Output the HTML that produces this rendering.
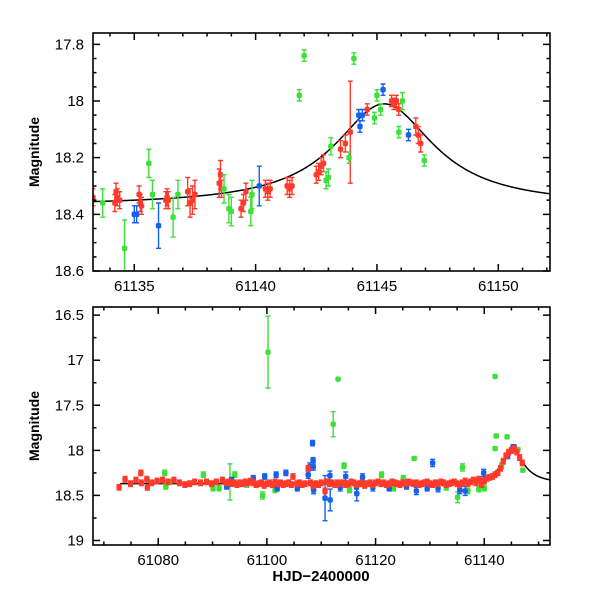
<!DOCTYPE html>
<html><head><meta charset="utf-8"><style>
html,body{margin:0;padding:0;background:#fff;}
svg{display:block;font-family:"Liberation Sans",sans-serif;}
</style></head><body>
<svg id="chart" width="600" height="600" viewBox="0 0 600 600"></svg>
<script>
// ---- TOP PANEL DATA ----
const topRedT=[61133.3,61134.2,61134.25,61134.3,61134.4,61135.2,61135.25,61135.3,61136.3,61136.35,61136.4,61137.2,61137.3,61137.4,61137.5,61138.5,61138.55,61138.6,61139.4,61139.5,61139.6,61140.4,61140.5,61140.6,61141.3,61141.4,61141.5,61142.5,61142.6,61142.7,61142.8,61143.5,61143.7,61143.9,61144.6,61145.6,61145.7,61145.8,61145.9,61146.6,61146.7,61146.8];
const topRedM=[18.34,18.36,18.32,18.34,18.35,18.33,18.36,18.37,18.35,18.34,18.35,18.32,18.36,18.35,18.33,18.29,18.26,18.31,18.38,18.36,18.32,18.31,18.32,18.31,18.3,18.31,18.3,18.26,18.25,18.23,18.22,18.17,18.15,18.11,18.03,18.0,18.01,18.0,18.03,18.09,18.12,18.15];
const topRedE=[0.03,0.03,0.03,0.03,0.03,0.03,0.03,0.03,0.03,0.03,0.03,0.05,0.05,0.05,0.05,0.05,0.05,0.03,0.03,0.03,0.03,0.03,0.03,0.03,0.03,0.03,0.03,0.03,0.03,0.03,0.03,0.03,0.03,0.18,0.02,0.02,0.02,0.02,0.02,0.03,0.03,0.03];
const topGreenT=[61133.7,61134.6,61135.6,61135.75,61136.6,61136.8,61138.7,61138.9,61139.0,61139.8,61139.85,61141.8,61142.0,61142.9,61143.0,61143.1,61143.85,61144.05,61144.9,61145.0,61145.15,61146.05,61145.9,61146.95];
const topGreenM=[18.36,18.52,18.22,18.33,18.41,18.33,18.31,18.38,18.39,18.39,18.33,17.98,17.84,18.28,18.27,18.16,18.2,17.85,18.06,17.98,18.03,18.0,18.11,18.21];
const topGreenE=[0.05,0.1,0.05,0.05,0.07,0.05,0.05,0.05,0.05,0.05,0.05,0.02,0.02,0.03,0.03,0.03,0.02,0.02,0.02,0.02,0.02,0.03,0.02,0.02];
const topBlueT=[61135.0,61135.1,61136.0,61140.15,61144.25,61144.3,61144.4,61145.25,61146.3];
const topBlueM=[18.4,18.4,18.44,18.3,18.05,18.09,18.05,17.96,18.12];
const topBlueE=[0.03,0.03,0.08,0.07,0.02,0.02,0.02,0.02,0.02];
// ---- BOTTOM PANEL DATA ----
const botRedT=[61072.8,61073.9,61074.9,61075.9,61076.8,61076.9,61077.9,61078.0,61078.8,61079.8,61080.8,61081.8,61082.9,61083.9,61084.9,61085.8,61086.7,61087.8,61088.9,61089.8,61090.7,61091.8,61092.5,61093.0,61093.5,61094.0,61094.5,61095.0,61095.5,61096.0,61096.5,61097.0,61097.5,61098.0,61098.5,61099.0,61099.5,61100.0,61100.5,61101.0,61101.5,61102.0,61102.5,61103.0,61103.5,61104.0,61104.5,61104.8,61105.5,61106.0,61106.5,61107.0,61107.6,61108.0,61108.5,61109.0,61109.5,61110.0,61110.7,61111.0,61111.5,61112.0,61112.5,61113.0,61113.5,61114.0,61114.5,61115.0,61115.5,61116.0,61116.5,61117.0,61117.5,61118.0,61118.5,61119.0,61119.5,61120.0,61120.5,61121.0,61121.5,61122.0,61122.5,61123.0,61123.5,61124.0,61124.5,61125.0,61125.5,61126.0,61126.5,61127.0,61127.5,61128.0,61128.5,61129.0,61129.5,61130.0,61130.5,61131.0,61131.5,61132.0,61132.5,61133.0,61133.5,61134.0,61134.5,61135.0,61135.5,61136.0,61136.5,61137.0,61137.5,61138.0,61138.5,61139.0,61139.5,61140.0,61140.5,61141.0,61141.5,61142.0,61142.5,61143.0,61143.5,61144.0,61144.5,61145.0,61145.5,61146.0,61146.5,61147.0];
const botRedM=[18.41,18.32,18.37,18.33,18.25,18.36,18.32,18.41,18.36,18.34,18.33,18.35,18.33,18.36,18.38,18.37,18.35,18.36,18.35,18.37,18.35,18.33,18.36,18.35,18.37,18.36,18.38,18.36,18.37,18.35,18.36,18.34,18.36,18.38,18.37,18.36,18.39,18.37,18.36,18.38,18.35,18.37,18.36,18.38,18.37,18.36,18.38,18.29,18.37,18.36,18.38,18.37,18.2,18.36,18.39,18.37,18.38,18.36,18.45,18.35,18.37,18.36,18.38,18.36,18.37,18.36,18.38,18.37,18.35,18.36,18.38,18.37,18.36,18.39,18.37,18.36,18.38,18.36,18.35,18.37,18.36,18.38,18.37,18.35,18.36,18.37,18.38,18.36,18.37,18.35,18.36,18.37,18.36,18.38,18.37,18.36,18.35,18.37,18.38,18.36,18.37,18.35,18.36,18.38,18.37,18.36,18.35,18.37,18.38,18.36,18.34,18.37,18.35,18.33,18.36,18.32,18.38,18.34,18.31,18.3,18.29,18.27,18.25,18.2,18.12,18.06,18.02,18.0,17.98,18.02,18.08,18.14];
const botGreenT=[61081.2,61081.4,61082.1,61088.3,61090.1,61091.2,61093.2,61094.1,61096.3,61099.2,61100.2,61101.5,61112.2,61113.1,61114.2,61115.2,61121.1,61123.3,61125.1,61127.1,61133.0,61135.1,61136.0,61137.0,61139.0,61140.0,61142.0,61142.2,61142.0,61144.2,61143.2,61146.2,61147.1];
const botGreenM=[18.25,18.4,18.35,18.27,18.42,18.42,18.35,18.27,18.38,18.5,16.91,18.44,17.71,17.21,18.17,18.44,18.27,18.42,18.31,18.09,18.41,18.52,18.19,18.45,18.43,18.42,17.18,17.84,17.98,17.85,18.17,17.99,18.22];
const botGreenE=[0.03,0.03,0.03,0.03,0.03,0.03,0.2,0.03,0.03,0.04,0.4,0.03,0.14,0,0.03,0.03,0.03,0.03,0.03,0.02,0.03,0.06,0.04,0.03,0.03,0.03,0,0.02,0.02,0.02,0.03,0.02,0.02];
const botBlueT=[61092.6,61093.5,61097.5,61099.6,61101.7,61101.9,61103.5,61105.6,61107.6,61107.9,61108.4,61108.5,61108.55,61108.6,61110.7,61111.6,61111.65,61113.5,61114.5,61116.5,61116.55,61117.6,61119.5,61122.5,61125.7,61127.5,61129.5,61130.5,61131.5,61135.5,61136.5,61139.9,61144.3,61145.3,61145.5];
const botBlueM=[18.4,18.33,18.31,18.29,18.27,18.42,18.25,18.42,18.27,18.18,17.92,18.11,18.18,18.44,18.53,18.28,18.55,18.41,18.29,18.41,18.48,18.3,18.41,18.42,18.4,18.45,18.42,18.14,18.42,18.44,18.45,18.25,18.07,17.96,17.96];
const botBlueE=[0.03,0.03,0.03,0.03,0.03,0.03,0.03,0.03,0.04,0.04,0.03,0.03,0.04,0.04,0.25,0.05,0.12,0.04,0.05,0.06,0.08,0.04,0.04,0.03,0.03,0.04,0.03,0.04,0.04,0.04,0.05,0.04,0.02,0.02,0.02];
const topXTicks=[61135,61140,61145,61150];
const topYTicks=[17.8,18,18.2,18.4,18.6];
const botXTicks=[61080,61100,61120,61140];
const botYTicks=[16.5,17,17.5,18,18.5,19];
// model parameters (not data)
const modelBase=18.37, modelAmp=0.36, modelT0=61145.3, modelW=2.5;

const NS='http://www.w3.org/2000/svg';
const svg=document.getElementById('chart');
function el(tag,attrs,parent){const e=document.createElementNS(NS,tag);for(const k in attrs)e.setAttribute(k,attrs[k]);(parent||svg).appendChild(e);return e;}
const RED='#ff3a2a',GREEN='#3ee03a',BLUE='#1560ee';

function panel(name,x0,x1,y0,y1,t0,t1,m0,m1,xTicks,xMinor,yTicks,yMinor,series,modelStart){
  const g=el('g',{});
  
  
  const X=t=>x0+(t-t0)/(t1-t0)*(x1-x0);
  const Y=m=>y0+(m-m0)/(m1-m0)*(y1-y0);
  const clip=el('clipPath',{id:name+'-clip'},g);
  el('rect',{x:x0,y:y0,width:x1-x0,height:y1-y0},clip);
  const inner=el('g',{'clip-path':'url(#'+name+'-clip)'},g);
  let d='';
  for(let t=modelStart;t<=t1;t+=0.05){const m=modelBase-modelAmp/(1+Math.pow((t-modelT0)/modelW,2));d+=(d?'L':'M')+X(t).toFixed(2)+','+Y(m).toFixed(2);}
  const c=el('path',{d:d,fill:'none',stroke:'#000','stroke-width':1.5},inner);
  
  
  series.forEach(s=>{
    const sg=el('g',{},inner);
    
    
    for(let i=0;i<s.t.length;i++){
      const x=X(s.t[i]),y=Y(s.m[i]),e=s.e?s.e[i]:0.03;
      if(e>0){
        const ya=Y(s.m[i]-e),yb=Y(s.m[i]+e);
        el('path',{d:`M${x},${ya}V${yb}M${x-2.5},${ya}H${x+2.5}M${x-2.5},${yb}H${x+2.5}`,stroke:s.c,'stroke-width':1.4,fill:'none'},sg);
      }
      const p=el('rect',{x:x-2.7,y:y-2.7,width:5.4,height:5.4,rx:1.8,fill:s.c},sg);
      
      
    }
  });
  const f=el('rect',{x:x0,y:y0,width:x1-x0,height:y1-y0,fill:'none',stroke:'#000','stroke-width':1.6},g);
  
  
  let td='';
  for(let t=Math.ceil(t0/xMinor)*xMinor;t<=t1;t+=xMinor){
    const major=xTicks.some(v=>Math.abs(v-t)<1e-6);const L=major?7:3.5;const x=X(t);
    td+=`M${x},${y1}v${-L}M${x},${y0}v${L}`;
  }
  for(let k=Math.ceil(m0/yMinor-1e-6);k*yMinor<=m1+1e-6;k++){
    const m=k*yMinor;const major=yTicks.some(v=>Math.abs(v-m)<1e-6);const L=major?7:3.5;const y=Y(m);
    td+=`M${x0},${y}h${L}M${x1},${y}h${-L}`;
  }
  el('path',{d:td,stroke:'#000','stroke-width':1.5,fill:'none'},g);
  xTicks.forEach(t=>{const tx=el('text',{x:X(t),y:y1+20,'font-size':15,'text-anchor':'middle'},g);tx.textContent=String(t);
    
    });
  yTicks.forEach(m=>{const tx=el('text',{x:x0-9,y:Y(m)+5,'font-size':15,'text-anchor':'end'},g);tx.textContent=String(m);
    
    });
  const yl=el('text',{x:0,y:0,'font-size':14,'font-weight':'bold','text-anchor':'middle',transform:`translate(39,${(y0+y1)/2}) rotate(-90)`},g);
  yl.textContent='Magnitude';
  
  
}
panel('top-panel',93,550,33,271,61133.3,61152.13,17.76,18.6,topXTicks,1,topYTicks,0.05,
  [{name:'red-series',t:topRedT,m:topRedM,e:topRedE,c:RED},{name:'green-series',t:topGreenT,m:topGreenM,e:topGreenE,c:GREEN},{name:'blue-series',t:topBlueT,m:topBlueM,e:topBlueE,c:BLUE}],61133.3);
panel('bottom-panel',93,550,307,545,61068,61152.1,16.41,19.05,botXTicks,5,botYTicks,0.25,
  [{name:'green-series',t:botGreenT,m:botGreenM,e:botGreenE,c:GREEN},{name:'blue-series',t:botBlueT,m:botBlueM,e:botBlueE,c:BLUE},{name:'red-series',t:botRedT,m:botRedM,c:RED}],61073);
const xl=el('text',{x:321,y:581,'font-size':15,'font-weight':'bold','text-anchor':'middle'});
xl.textContent='HJD\u22122400000';


</script>
</body></html>
